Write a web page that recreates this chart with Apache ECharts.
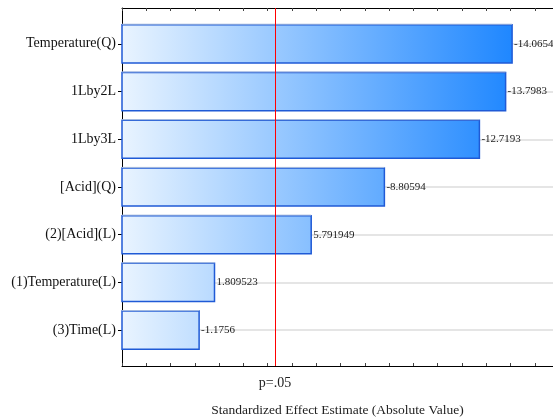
<!DOCTYPE html>
<html lang="en">
  <head>
    <meta charset="UTF-8" />
    <title>Pareto Chart of Standardized Effects</title>
    <script src="https://cdn.jsdelivr.net/npm/echarts@6/dist/echarts.min.js"></script>
  </head>
  <body style="margin:0">
    <div id="main" style="width: 553px;height:417px;"></div>
    <script type="text/javascript">
      // effects, top to bottom
      var names = ["Temperature(Q)", "1Lby2L", "1Lby3L", "[Acid](Q)", "(2)[Acid](L)", "(1)Temperature(L)", "(3)Time(L)"];
      var effects = [-14.0654, -13.7983, -12.7193, -8.80594, 5.791949, 1.809523, -1.1756];
      var pCrit = 4.303; // p=.05
      var pLabel = "p=.05";

      var serif = "'Liberation Serif', 'DejaVu Serif', serif";
      var rows = effects.map(function (v, i) {
        return [Math.abs(v), i, v];
      });
      var maxAbs = Math.max.apply(null, rows.map(function (r) { return r[0]; }));
      var idx = names.map(function (n, i) { return i; });

      function renderItem(params, api) {
        var v = api.value(0);
        var i = api.value(1);
        var raw = api.value(2);
        var start = api.coord([-2, i]);
        var end = api.coord([v, i]);
        var far = api.coord([maxAbs, i]);
        var h = api.size([0, 0.8])[1];
        var top = start[1] - h / 2;
        return {
          type: "group",
          children: [
            {
              type: "rect",
              shape: { x: start[0], y: top, width: end[0] - start[0], height: h },
              style: {
                fill: new echarts.graphic.LinearGradient(start[0], 0, far[0], 0, [
                  { offset: 0, color: "#e9f4ff" },
                  { offset: 1, color: "#1f87ff" },
                ], true),
                stroke: "#1f5ad6",
                lineWidth: 1.5,
              },
            },
            {
              type: "line",
              shape: { x1: start[0], y1: top - 0.5, x2: end[0], y2: top - 0.5 },
              style: { stroke: "#a9bedf", lineWidth: 1 },
            },
            {
              type: "text",
              style: {
                text: String(raw),
                x: end[0] + 2,
                y: start[1],
                verticalAlign: "middle",
                font: "11px " + serif,
                fill: "#222",
              },
            },
          ],
        };
      }

      var myChart = echarts.init(document.getElementById("main"));
      option = {
        animation: false,
        grid: { left: 122, right: 0, top: 8, bottom: 51, outerBoundsMode: "none" },
        xAxis: [
          {
            type: "value",
            min: -2,
            max: 15.75,
            interval: 1,
            name: "Standardized Effect Estimate (Absolute Value)",
            nameLocation: "middle",
            nameGap: 37,
            nameTextStyle: { fontFamily: serif, fontSize: 13.5, color: "#222" },
            axisLine: { show: true, onZero: false, lineStyle: { color: "#000" } },
            axisTick: { show: true, inside: true, length: 3, lineStyle: { color: "#444" } },
            axisLabel: {
              customValues: [pCrit],
              formatter: function () { return pLabel; },
              margin: 10,
              fontFamily: serif,
              fontSize: 14,
              color: "#222",
            },
            splitLine: { show: false },
          },
          {
            type: "value",
            position: "top",
            min: -2,
            max: 15.75,
            interval: 1,
            axisLine: { show: true, onZero: false, lineStyle: { color: "#000" } },
            axisTick: { show: true, inside: true, length: 3, lineStyle: { color: "#444" } },
            axisLabel: { show: false },
            splitLine: { show: false },
          },
        ],
        yAxis: {
          type: "value",
          inverse: true,
          min: -0.75,
          max: 6.75,
          axisLine: { show: true, onZero: false, lineStyle: { color: "#000" } },
          axisTick: { show: true, customValues: idx, length: 4, lineStyle: { color: "#000" } },
          axisLabel: {
            customValues: idx,
            formatter: function (v) { return names[v] || ""; },
            margin: 6,
            fontFamily: serif,
            fontSize: 14,
            color: "#111",
          },
          splitLine: { show: true, lineStyle: { color: "#dddddd", width: 1.5 } },
        },
        series: [
          {
            type: "custom",
            renderItem: renderItem,
            encode: { x: 0, y: 1 },
            data: rows,
            markLine: {
              silent: true,
              symbol: "none",
              label: { show: false },
              lineStyle: { color: "#ff0000", width: 1, type: "solid", opacity: 1 },
              data: [{ xAxis: pCrit }],
            },
          },
        ],
      };
      myChart.setOption(option);
    </script>
  </body>
</html>
